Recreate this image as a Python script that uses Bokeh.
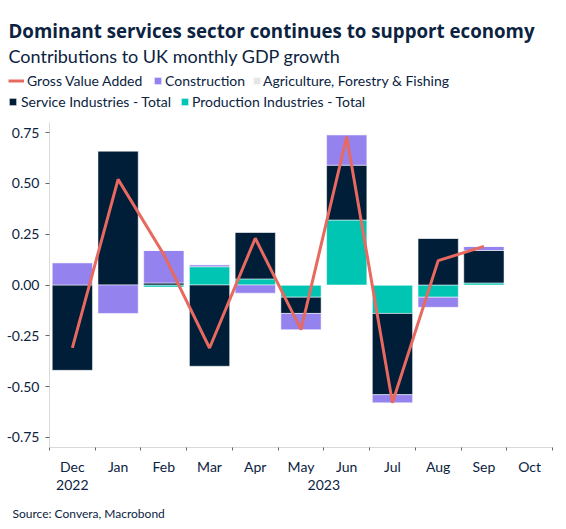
import numpy as np
from bokeh.plotting import figure
from bokeh.layouts import column
from bokeh.models import (Range1d, FixedTicker, NumeralTickFormatter, LinearAxis,
                          Label, Legend, LegendItem)
from bokeh.embed import file_html
from bokeh.resources import INLINE

# ---------------- data ----------------
months = ["Dec", "Jan", "Feb", "Mar", "Apr", "May", "Jun", "Jul", "Aug", "Sep", "Oct"]
years = ["2022"] + ["2023"] * 10
gva = [-0.31, 0.52, 0.15, -0.31, 0.23, -0.22, 0.73, -0.58, 0.12, 0.19]
production = [0.0, 0.0, -0.01, 0.09, 0.03, -0.06, 0.32, -0.14, -0.06, 0.01]
services = [-0.42, 0.66, 0.01, -0.40, 0.23, -0.08, 0.27, -0.40, 0.23, 0.16]
construction = [0.11, -0.14, 0.16, 0.01, -0.04, -0.08, 0.15, -0.04, -0.05, 0.02]
agriculture = [0.0, 0.0, 0.0, 0.0, 0.0, 0.0, 0.0, 0.0, 0.0, 0.0]
y_ticks = [-0.75, -0.5, -0.25, 0.0, 0.25, 0.5, 0.75]

TITLE = "Dominant services sector continues to support economy"
SUBTITLE = "Contributions to UK monthly GDP growth"
SOURCE = "Source: Convera, Macrobond"

# ---------------- style ----------------
FONT = "Lato"
TITLE_FONT = "Open Sans"
TEXT = "#0b2341"
NAVY = "#011e38"
PURPLE = "#9483ef"
TEAL = "#00c5b3"
GRAY = "#e6e6e6"
SALMON = "#e8695f"
W = 566


def blank(height):
    f = figure(width=W, height=height, x_range=Range1d(0, 1), y_range=Range1d(0, 1),
               x_axis_type=None, y_axis_type=None, output_backend="svg",
               toolbar_location=None, min_border=0, frame_align=False,
               background_fill_color="white", border_fill_color="white")
    f.outline_line_color = None
    f.grid.visible = False
    return f


# ---------------- main chart ----------------
p = figure(frame_width=503, frame_height=325,
           x_range=Range1d(-0.5, len(months) - 0.5), y_range=Range1d(-0.8, 0.8),
           output_backend="svg", toolbar_location=None, frame_align=False,
           min_border_left=49, min_border_right=14, min_border_top=0, min_border_bottom=50,
           background_fill_color="white", border_fill_color="white")
p.outline_line_color = None
p.xgrid.visible = False
p.ygrid.visible = False

x = np.arange(len(gva))
series = [("Production Industries - Total", production, TEAL),
          ("Service Industries - Total", services, NAVY),
          ("Construction", construction, PURPLE),
          ("Agriculture, Forestry & Fishing", agriculture, GRAY)]
pos = np.zeros(len(x))
neg = np.zeros(len(x))
for name, vals, col in series:
    v = np.array(vals, dtype=float)
    bottom = np.where(v >= 0, pos, neg)
    top = bottom + v
    pos = np.where(v >= 0, top, pos)
    neg = np.where(v < 0, top, neg)
    p.vbar(x=x, bottom=bottom, top=top, width=0.88, fill_color=col,
           line_color="white", line_alpha=0.5, line_width=1)

p.line(x, gva, line_width=3, line_color=SALMON)

xa = p.xaxis[0]
xa.ticker = FixedTicker(ticks=list(range(len(months))),
                        minor_ticks=[i - 0.5 for i in range(len(months) + 1)])
xa.major_label_overrides = {i: m for i, m in enumerate(months)}
xa.major_tick_out = 0
xa.major_tick_in = 0
xa.minor_tick_out = 3
xa.minor_tick_in = 0
xa.minor_tick_line_color = "#666666"
xa.axis_line_color = "#d9d9d9"
xa.major_label_standoff = 7
xa.major_label_text_font = FONT
xa.major_label_text_font_size = "14px"
xa.major_label_text_color = TEXT

year_names = sorted(set(years))
year_pos = [float(np.mean([i for i, yv in enumerate(years) if yv == yn])) for yn in year_names]
xa2 = LinearAxis(ticker=FixedTicker(ticks=year_pos, minor_ticks=[]),
                 major_label_overrides={pp: yn for pp, yn in zip(year_pos, year_names)})
xa2.axis_line_color = None
xa2.major_tick_line_color = None
xa2.minor_tick_line_color = None
xa2.major_tick_out = 0
xa2.major_label_standoff = 2
xa2.major_label_text_font = FONT
xa2.major_label_text_font_size = "14px"
xa2.major_label_text_color = TEXT
p.add_layout(xa2, "below")

ya = p.yaxis[0]
ya.ticker = FixedTicker(ticks=y_ticks, minor_ticks=[])
ya.formatter = NumeralTickFormatter(format="0.00")
ya.major_tick_out = 4
ya.major_tick_in = 0
ya.major_tick_line_color = "#666666"
ya.axis_line_color = "#d9d9d9"
ya.major_label_standoff = 6
ya.major_label_text_font = FONT
ya.major_label_text_font_size = "14px"
ya.major_label_text_color = TEXT

# ---------------- header: titles + legend ----------------
HEAD_H = 122
head = blank(HEAD_H)
head.add_layout(Label(x=8, y=HEAD_H - 30, x_units="screen", y_units="screen", text=TITLE,
                      text_font=TITLE_FONT, text_font_size="18.7px", text_font_style="bold",
                      text_color=TEXT, text_baseline="alphabetic"))
head.add_layout(Label(x=8, y=HEAD_H - 55, x_units="screen", y_units="screen", text=SUBTITLE,
                      text_font=FONT, text_font_size="18px", text_color=TEXT,
                      text_baseline="alphabetic"))

# legend proxies: one point each, placed outside the header's visible range
proxy = {"Gross Value Added": head.line(x=[-10, -9], y=[-10, -10], line_width=3,
                                        line_color=SALMON)}
for name, vals, col in series:
    proxy[name] = head.vbar(x=[-10], top=[-10], width=1, fill_color=col,
                            line_color="white", line_alpha=0.5, line_width=1)


def add_legend(name, vx, vy, gw, standoff):
    lg = Legend(items=[LegendItem(label=name, renderers=[proxy[name]])],
                location=(vx, vy), orientation="horizontal",
                glyph_width=gw, glyph_height=9, label_height=9, label_width=0,
                label_standoff=standoff, padding=0, margin=0, spacing=0,
                border_line_color=None, background_fill_alpha=0,
                label_text_font=FONT, label_text_font_size="14px",
                label_text_color=TEXT)
    head.add_layout(lg, "center")


add_legend("Gross Value Added", 8, 33, 16, 3)
add_legend("Construction", 153, 33, 9, 3)
add_legend("Agriculture, Forestry & Fishing", 252, 33, 9, 2)
add_legend("Service Industries - Total", 8, 12, 9, 4)
add_legend("Production Industries - Total", 180, 12, 9, 3)

# ---------------- footer: source ----------------
FOOT_H = 30
foot = blank(FOOT_H)
foot.add_layout(Label(x=12, y=FOOT_H - 16, x_units="screen", y_units="screen", text=SOURCE,
                      text_font=FONT, text_font_size="12px", text_color=TEXT,
                      text_baseline="alphabetic"))

layout = column(head, p, foot, spacing=0)
open("out.html", "w").write(file_html(layout, INLINE))
